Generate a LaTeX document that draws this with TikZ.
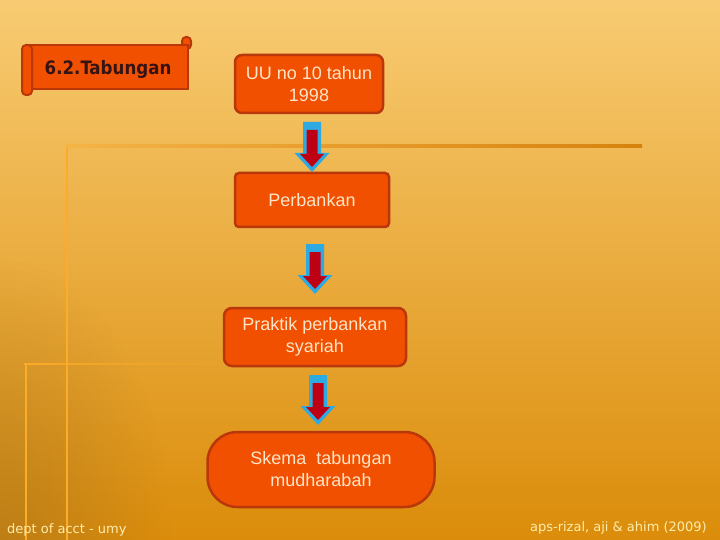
\documentclass[tikz,border=0pt]{standalone}
\usepackage{fontspec}
\setmainfont{Liberation Sans}
\newfontfamily\dejavu{DejaVu Sans}
\newfontfamily\dejacond{DejaVu Sans Condensed}
\usetikzlibrary{fadings}
\definecolor{bgtop}{RGB}{248,203,114}
\definecolor{bgbot}{RGB}{219,140,10}
\definecolor{brownc}{RGB}{165,115,30}
\definecolor{nodefill}{RGB}{240,80,0}
\definecolor{nodeborder}{RGB}{185,55,10}
\definecolor{nodetext}{RGB}{255,228,200}
\definecolor{arrcyan}{RGB}{45,170,225}
\definecolor{arrred}{RGB}{190,0,20}
\definecolor{footc}{RGB}{255,236,170}
\definecolor{titlec}{RGB}{55,20,20}
\definecolor{decoA}{RGB}{245,180,70}
\definecolor{decoB}{RGB}{215,130,15}
\definecolor{decoV}{RGB}{252,172,40}
\tikzfading[name=cornerfade, inner color=transparent!0, outer color=transparent!100]
\tikzset{
  stepbox/.style={draw=nodeborder, line width=2.5pt, fill=nodefill, text=nodetext,
    font=\fontsize{18}{22}\selectfont, align=center, inner sep=0pt},
  foot/.style={text=footc, font=\dejavu\fontsize{13}{15}\selectfont, inner sep=0pt},
  scrollpart/.style={fill=nodefill, draw=nodeborder, line width=2pt},
  blockarr/.pic={
    \fill[arrcyan] (-9,0) -- (9,0) -- (9,31) -- (17.5,31) -- (0,50) -- (-17.5,31) -- (-9,31) -- cycle;
    \fill[arrred] (-5.5,8) -- (5.5,8) -- (5.5,32) -- (12,32) -- (0,45) -- (-12,32) -- (-5.5,32) -- cycle;
  }
}
\begin{document}
\begin{tikzpicture}[x=1pt,y=-1pt]
\useasboundingbox (0,0) rectangle (720,540);
% background
\shade[top color=bgtop, bottom color=bgbot] (0,0) rectangle (720,540);
\begin{scope}
  \clip (0,0) rectangle (720,540);
  \fill[brownc, opacity=0.55, path fading=cornerfade, fit fading=true] (-170,260) rectangle (170,820);
\end{scope}
% decorative lines
\shade[left color=decoA, right color=decoB] (66,144.5) rectangle (642,147.5);
\fill[decoV] (65.5,147) rectangle (68,540);
\fill[decoV, path fading=east] (24,362.5) rectangle (235,365);
\fill[decoV] (24.5,364) rectangle (27,540);
% scroll
\filldraw[scrollpart, rounded corners=4pt] (182,49) rectangle (191,37);
\filldraw[scrollpart] (30,45) rectangle (188,89);
\filldraw[scrollpart, rounded corners=4pt] (22,45) rectangle (32,95);
\node[text=titlec, font=\dejacond\bfseries\fontsize{18.5}{21}\selectfont, inner sep=0pt] (title) at (108,69) {6.2.Tabungan};
% boxes
\node[stepbox, minimum width=148pt, minimum height=58pt, rounded corners=7pt] (b1) at (309,84) {UU no 10 tahun\\1998};
\node[stepbox, minimum width=154pt, minimum height=54pt, rounded corners=4pt] (b2) at (312,200) {Perbankan};
\node[stepbox, minimum width=182pt, minimum height=58pt, rounded corners=8pt] (b3) at (315,337) {Praktik perbankan\\syariah};
\node[stepbox, minimum width=227pt, minimum height=75pt, rounded corners=30pt] (b4) at (321,469.5) {Skema~~tabungan\\mudharabah};
% block arrows
\pic (a1) at (312,122) {blockarr};
\pic (a2) at (315,244) {blockarr};
\pic (a3) at (318,375) {blockarr};
% footer
\node[foot, anchor=base west] (fl) at (7,533) {dept of acct - umy};
\node[foot, anchor=base east] (fr) at (707,531) {aps-rizal, aji \& ahim (2009)};
\end{tikzpicture}
\end{document}
